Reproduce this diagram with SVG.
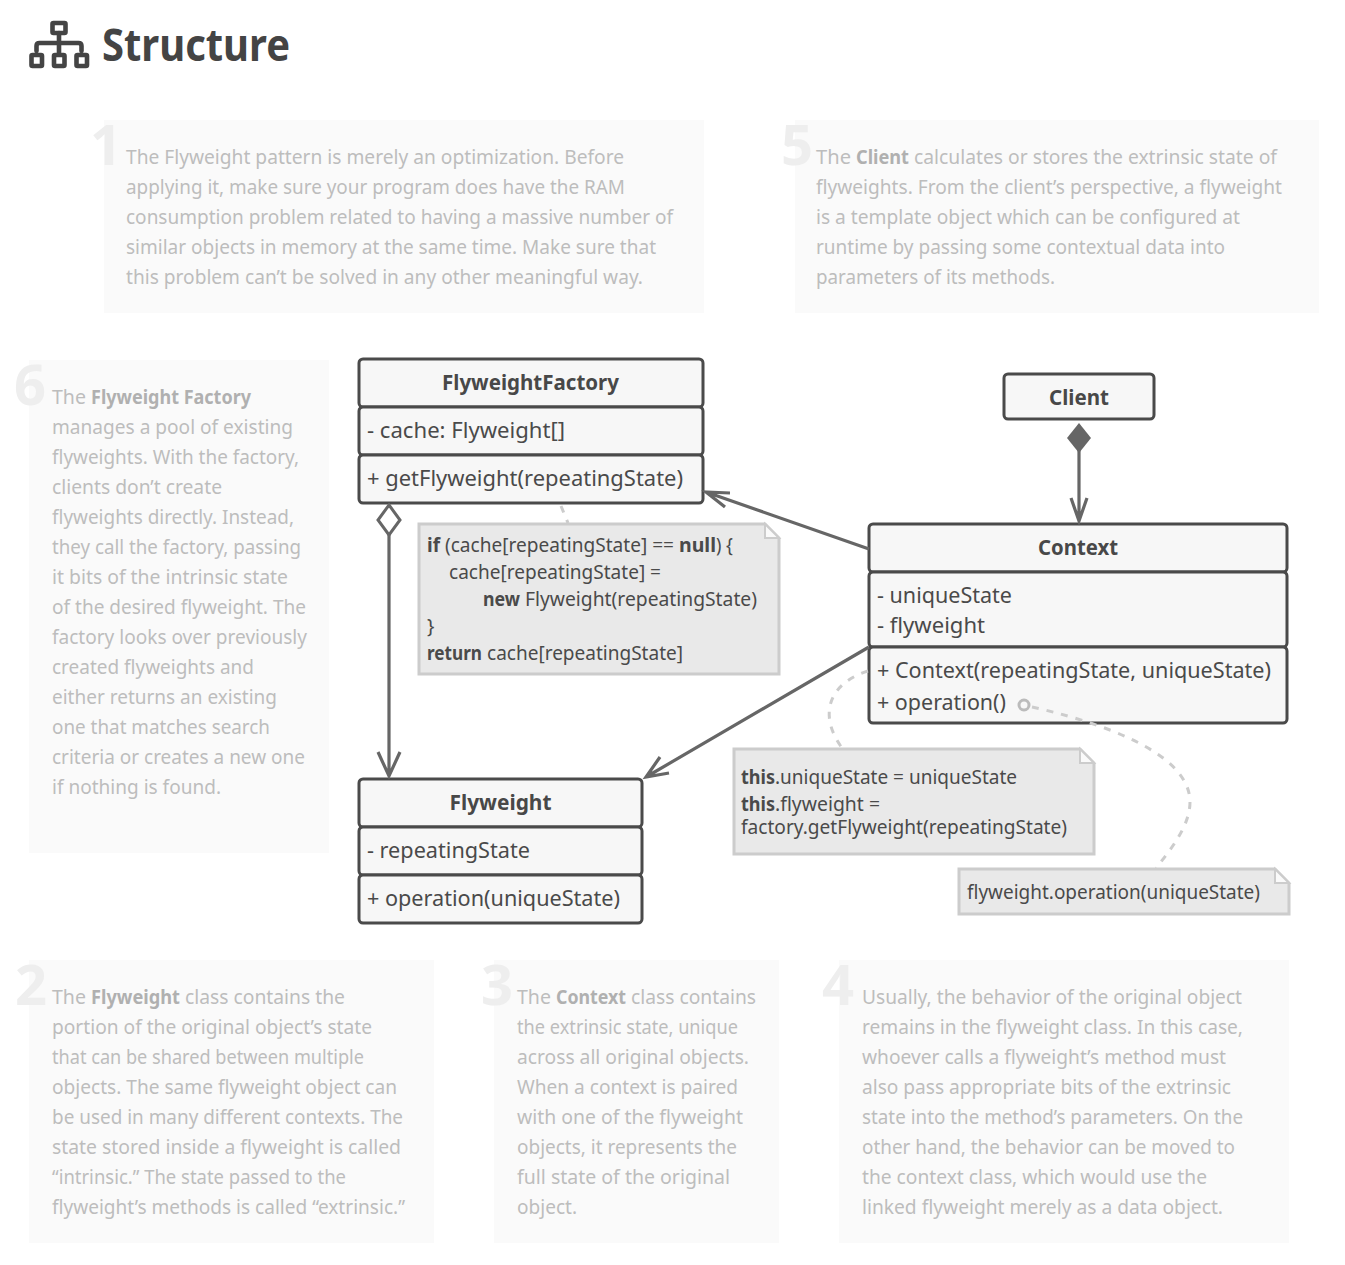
<svg xmlns="http://www.w3.org/2000/svg" width="1345" height="1265" viewBox="0 0 1345 1265">
<style>
text{font-family:"Noto Sans","Open Sans",sans-serif}
.h{font-size:44px;font-weight:700;fill:#444}
.panel{fill:#fafafa}
.num{font-size:56px;font-weight:700;fill:#eee}
.d{font-size:19.5px;fill:#bdbdbd}
.db{font-size:19.5px;fill:#b0b0b0;font-weight:700}
.box{fill:#f7f7f7;stroke:#4a4a4a;stroke-width:3}
.t{font-size:22px;font-weight:700;fill:#484848;text-anchor:middle}
.m{font-size:22px;fill:#4a4a4a}
.note{fill:#e9e9e9;stroke:#ccc;stroke-width:3}
.fold{fill:#fafafa;stroke:#ccc;stroke-width:2}
.n{font-size:19.5px;fill:#4a4a4a}
.nb{font-size:19.5px;fill:#4a4a4a;font-weight:700}
.c{fill:none;stroke:#666;stroke-width:3.2}
.dash{fill:none;stroke:#ccc;stroke-width:3;stroke-dasharray:7 8}
</style>

<g id="title">
<g fill="none" stroke="#444" stroke-width="4.6" stroke-linejoin="round" stroke-linecap="round">
<rect x="52.500" y="23" width="13" height="10" rx="1"/>
<path d="M59 33V53M36.500 51V46Q36.500 43 39.500 43H78.500Q81.500 43 81.500 46V51"/>
<rect x="31.500" y="55" width="10.500" height="11" rx="1"/>
<rect x="54" y="55" width="10.500" height="11" rx="1"/>
<rect x="76.500" y="55" width="10.500" height="11" rx="1"/>
</g>
<text class="h" x="102" y="61" textLength="188" lengthAdjust="spacingAndGlyphs">Structure</text>
</g>

<g id="note-1">
<rect class="panel" x="104" y="120" width="600" height="193"/>
<text class="num" x="90" y="165">1</text>
<text class="d" x="126" y="164" textLength="498" lengthAdjust="spacingAndGlyphs">The Flyweight pattern is merely an optimization. Before</text>
<text class="d" x="126" y="194" textLength="499" lengthAdjust="spacingAndGlyphs">applying it, make sure your program does have the RAM</text>
<text class="d" x="126" y="224" textLength="547" lengthAdjust="spacingAndGlyphs">consumption problem related to having a massive number of</text>
<text class="d" x="126" y="254" textLength="530" lengthAdjust="spacingAndGlyphs">similar objects in memory at the same time. Make sure that</text>
<text class="d" x="126" y="284" textLength="517" lengthAdjust="spacingAndGlyphs">this problem can’t be solved in any other meaningful way.</text>
</g>

<g id="note-5">
<rect class="panel" x="795" y="120" width="524" height="193"/>
<text class="num" x="781" y="165">5</text>
<text class="d" x="816" y="164" textLength="35" lengthAdjust="spacingAndGlyphs">The</text>
<text class="db" x="856" y="164" textLength="53" lengthAdjust="spacingAndGlyphs">Client</text>
<text class="d" x="914" y="164" textLength="363" lengthAdjust="spacingAndGlyphs">calculates or stores the extrinsic state of</text>
<text class="d" x="816" y="194" textLength="466" lengthAdjust="spacingAndGlyphs">flyweights. From the client’s perspective, a flyweight</text>
<text class="d" x="816" y="224" textLength="424" lengthAdjust="spacingAndGlyphs">is a template object which can be configured at</text>
<text class="d" x="816" y="254" textLength="409" lengthAdjust="spacingAndGlyphs">runtime by passing some contextual data into</text>
<text class="d" x="816" y="284" textLength="239" lengthAdjust="spacingAndGlyphs">parameters of its methods.</text>
</g>

<g id="note-6">
<rect class="panel" x="29" y="360" width="300" height="493"/>
<text class="num" x="14" y="405">6</text>
<text class="d" x="52" y="404" textLength="34" lengthAdjust="spacingAndGlyphs">The</text>
<text class="db" x="91" y="404" textLength="160" lengthAdjust="spacingAndGlyphs">Flyweight Factory</text>
<text class="d" x="52" y="434" textLength="241" lengthAdjust="spacingAndGlyphs">manages a pool of existing</text>
<text class="d" x="52" y="464" textLength="247" lengthAdjust="spacingAndGlyphs">flyweights. With the factory,</text>
<text class="d" x="52" y="494" textLength="170" lengthAdjust="spacingAndGlyphs">clients don’t create</text>
<text class="d" x="52" y="524" textLength="242" lengthAdjust="spacingAndGlyphs">flyweights directly. Instead,</text>
<text class="d" x="52" y="554" textLength="249" lengthAdjust="spacingAndGlyphs">they call the factory, passing</text>
<text class="d" x="52" y="584" textLength="236" lengthAdjust="spacingAndGlyphs">it bits of the intrinsic state</text>
<text class="d" x="52" y="614" textLength="254" lengthAdjust="spacingAndGlyphs">of the desired flyweight. The</text>
<text class="d" x="52" y="644" textLength="255" lengthAdjust="spacingAndGlyphs">factory looks over previously</text>
<text class="d" x="52" y="674" textLength="202" lengthAdjust="spacingAndGlyphs">created flyweights and</text>
<text class="d" x="52" y="704" textLength="225" lengthAdjust="spacingAndGlyphs">either returns an existing</text>
<text class="d" x="52" y="734" textLength="218" lengthAdjust="spacingAndGlyphs">one that matches search</text>
<text class="d" x="52" y="764" textLength="253" lengthAdjust="spacingAndGlyphs">criteria or creates a new one</text>
<text class="d" x="52" y="794" textLength="169" lengthAdjust="spacingAndGlyphs">if nothing is found.</text>
</g>

<g id="note-2">
<rect class="panel" x="29" y="960" width="405" height="283"/>
<text class="num" x="15" y="1005">2</text>
<text class="d" x="52" y="1004" textLength="34" lengthAdjust="spacingAndGlyphs">The</text>
<text class="db" x="91" y="1004" textLength="89" lengthAdjust="spacingAndGlyphs">Flyweight</text>
<text class="d" x="185" y="1004" textLength="160" lengthAdjust="spacingAndGlyphs">class contains the</text>
<text class="d" x="52" y="1034" textLength="320" lengthAdjust="spacingAndGlyphs">portion of the original object’s state</text>
<text class="d" x="52" y="1064" textLength="312" lengthAdjust="spacingAndGlyphs">that can be shared between multiple</text>
<text class="d" x="52" y="1094" textLength="345" lengthAdjust="spacingAndGlyphs">objects. The same flyweight object can</text>
<text class="d" x="52" y="1124" textLength="351" lengthAdjust="spacingAndGlyphs">be used in many different contexts. The</text>
<text class="d" x="52" y="1154" textLength="349" lengthAdjust="spacingAndGlyphs">state stored inside a flyweight is called</text>
<text class="d" x="52" y="1184" textLength="294" lengthAdjust="spacingAndGlyphs">“intrinsic.” The state passed to the</text>
<text class="d" x="52" y="1214" textLength="353" lengthAdjust="spacingAndGlyphs">flyweight’s methods is called “extrinsic.”</text>
</g>

<g id="note-3">
<rect class="panel" x="494" y="960" width="285" height="283"/>
<text class="num" x="481" y="1005">3</text>
<text class="d" x="517" y="1004" textLength="34" lengthAdjust="spacingAndGlyphs">The</text>
<text class="db" x="556" y="1004" textLength="70" lengthAdjust="spacingAndGlyphs">Context</text>
<text class="d" x="631" y="1004" textLength="125" lengthAdjust="spacingAndGlyphs">class contains</text>
<text class="d" x="517" y="1034" textLength="221" lengthAdjust="spacingAndGlyphs">the extrinsic state, unique</text>
<text class="d" x="517" y="1064" textLength="232" lengthAdjust="spacingAndGlyphs">across all original objects.</text>
<text class="d" x="517" y="1094" textLength="221" lengthAdjust="spacingAndGlyphs">When a context is paired</text>
<text class="d" x="517" y="1124" textLength="226" lengthAdjust="spacingAndGlyphs">with one of the flyweight</text>
<text class="d" x="517" y="1154" textLength="220" lengthAdjust="spacingAndGlyphs">objects, it represents the</text>
<text class="d" x="517" y="1184" textLength="213" lengthAdjust="spacingAndGlyphs">full state of the original</text>
<text class="d" x="517" y="1214" textLength="60" lengthAdjust="spacingAndGlyphs">object.</text>
</g>

<g id="note-4">
<rect class="panel" x="839" y="960" width="450" height="283"/>
<text class="num" x="822" y="1005">4</text>
<text class="d" x="862" y="1004" textLength="380" lengthAdjust="spacingAndGlyphs">Usually, the behavior of the original object</text>
<text class="d" x="862" y="1034" textLength="381" lengthAdjust="spacingAndGlyphs">remains in the flyweight class. In this case,</text>
<text class="d" x="862" y="1064" textLength="364" lengthAdjust="spacingAndGlyphs">whoever calls a flyweight’s method must</text>
<text class="d" x="862" y="1094" textLength="369" lengthAdjust="spacingAndGlyphs">also pass appropriate bits of the extrinsic</text>
<text class="d" x="862" y="1124" textLength="381" lengthAdjust="spacingAndGlyphs">state into the method’s parameters. On the</text>
<text class="d" x="862" y="1154" textLength="373" lengthAdjust="spacingAndGlyphs">other hand, the behavior can be moved to</text>
<text class="d" x="862" y="1184" textLength="345" lengthAdjust="spacingAndGlyphs">the context class, which would use the</text>
<text class="d" x="862" y="1214" textLength="361" lengthAdjust="spacingAndGlyphs">linked flyweight merely as a data object.</text>
</g>

<g id="FlyweightFactory">
<rect class="box" x="359" y="359" width="344" height="48" rx="4"/>
<rect class="box" x="359" y="407" width="344" height="48" rx="4"/>
<rect class="box" x="359" y="455" width="344" height="48" rx="4"/>
<text class="t" x="530.500" y="390" textLength="177" lengthAdjust="spacingAndGlyphs">FlyweightFactory</text>
<text class="m" x="367" y="438" textLength="198" lengthAdjust="spacingAndGlyphs">- cache: Flyweight[]</text>
<text class="m" x="367" y="486" textLength="316" lengthAdjust="spacingAndGlyphs">+ getFlyweight(repeatingState)</text>
</g>

<g id="Client">
<rect class="box" x="1004" y="374" width="150" height="45" rx="4"/>
<text class="t" x="1079" y="405" textLength="60" lengthAdjust="spacingAndGlyphs">Client</text>
</g>

<g id="Context">
<rect class="box" x="869" y="524" width="418" height="48" rx="4"/>
<rect class="box" x="869" y="572" width="418" height="75" rx="4"/>
<rect class="box" x="869" y="647" width="418" height="76" rx="4"/>
<text class="t" x="1078" y="555" textLength="80" lengthAdjust="spacingAndGlyphs">Context</text>
<text class="m" x="877" y="603" textLength="135" lengthAdjust="spacingAndGlyphs">- uniqueState</text>
<text class="m" x="877" y="633" textLength="108" lengthAdjust="spacingAndGlyphs">- flyweight</text>
<text class="m" x="877" y="678" textLength="394" lengthAdjust="spacingAndGlyphs">+ Context(repeatingState, uniqueState)</text>
<text class="m" x="877" y="710" textLength="129" lengthAdjust="spacingAndGlyphs">+ operation()</text>
</g>

<g id="Flyweight">
<rect class="box" x="359" y="779" width="283" height="48" rx="4"/>
<rect class="box" x="359" y="827" width="283" height="48" rx="4"/>
<rect class="box" x="359" y="875" width="283" height="48" rx="4"/>
<text class="t" x="500.500" y="810" textLength="102" lengthAdjust="spacingAndGlyphs">Flyweight</text>
<text class="m" x="367" y="858" textLength="163" lengthAdjust="spacingAndGlyphs">- repeatingState</text>
<text class="m" x="367" y="906" textLength="253" lengthAdjust="spacingAndGlyphs">+ operation(uniqueState)</text>
</g>

<g id="connectors">
<path class="dash" d="M561 506L568 523"/>
<path class="dash" d="M868 671C832 682 816 712 842 748"/>
<circle cx="1024" cy="705" r="5" fill="none" stroke="#bbb" stroke-width="3"/>
<path class="dash" d="M1032 707C1090 720 1190 750 1190 802C1190 825 1172 848 1156 868"/>
<path class="c" d="M389 534V776M378 752L389 776L400 752"/>
<path fill="none" stroke="#666" stroke-width="3" d="M389 505L400 520L389 535L378 520Z"/>
<path class="c" d="M1079 450V520M1071 498L1079 521L1087 498"/>
<path fill="#666" d="M1079 423L1091 438L1079 453L1067 438Z"/>
<path class="c" d="M869 549L706 492M730 493L706 492L725 507"/>
<path class="c" d="M869 647L646 777M669 773L646 777L660 757"/>
</g>

<g id="note-cache">
<path class="note" d="M419 524H765L779 538V674H419Z"/>
<path class="fold" d="M765 524V538H779Z"/>
<text class="nb" x="427" y="552" textLength="13" lengthAdjust="spacingAndGlyphs">if</text>
<text class="n" x="445" y="552" textLength="229" lengthAdjust="spacingAndGlyphs">(cache[repeatingState] ==</text>
<text class="nb" x="679" y="552" textLength="37" lengthAdjust="spacingAndGlyphs">null</text>
<text class="n" x="716" y="552" textLength="17" lengthAdjust="spacingAndGlyphs">) {</text>
<text class="n" x="449" y="579" textLength="212" lengthAdjust="spacingAndGlyphs">cache[repeatingState] =</text>
<text class="nb" x="483" y="606" textLength="37" lengthAdjust="spacingAndGlyphs">new</text>
<text class="n" x="525" y="606" textLength="232" lengthAdjust="spacingAndGlyphs">Flyweight(repeatingState)</text>
<text class="n" x="427" y="633">}</text>
<text class="nb" x="427" y="660" textLength="55" lengthAdjust="spacingAndGlyphs">return</text>
<text class="n" x="487" y="660" textLength="196" lengthAdjust="spacingAndGlyphs">cache[repeatingState]</text>
</g>

<g id="note-constructor">
<path class="note" d="M734 749H1080L1094 763V854H734Z"/>
<path class="fold" d="M1080 749V763H1094Z"/>
<text class="nb" x="741" y="784" textLength="34" lengthAdjust="spacingAndGlyphs">this</text>
<text class="n" x="775" y="784" textLength="242" lengthAdjust="spacingAndGlyphs">.uniqueState = uniqueState</text>
<text class="nb" x="741" y="811" textLength="34" lengthAdjust="spacingAndGlyphs">this</text>
<text class="n" x="775" y="811" textLength="105" lengthAdjust="spacingAndGlyphs">.flyweight =</text>
<text class="n" x="741" y="834" textLength="326" lengthAdjust="spacingAndGlyphs">factory.getFlyweight(repeatingState)</text>
</g>

<g id="note-operation">
<path class="note" d="M959 869H1275L1289 883V914H959Z"/>
<path class="fold" d="M1275 869V883H1289Z"/>
<text class="n" x="967" y="899" textLength="293" lengthAdjust="spacingAndGlyphs">flyweight.operation(uniqueState)</text>
</g>
</svg>
